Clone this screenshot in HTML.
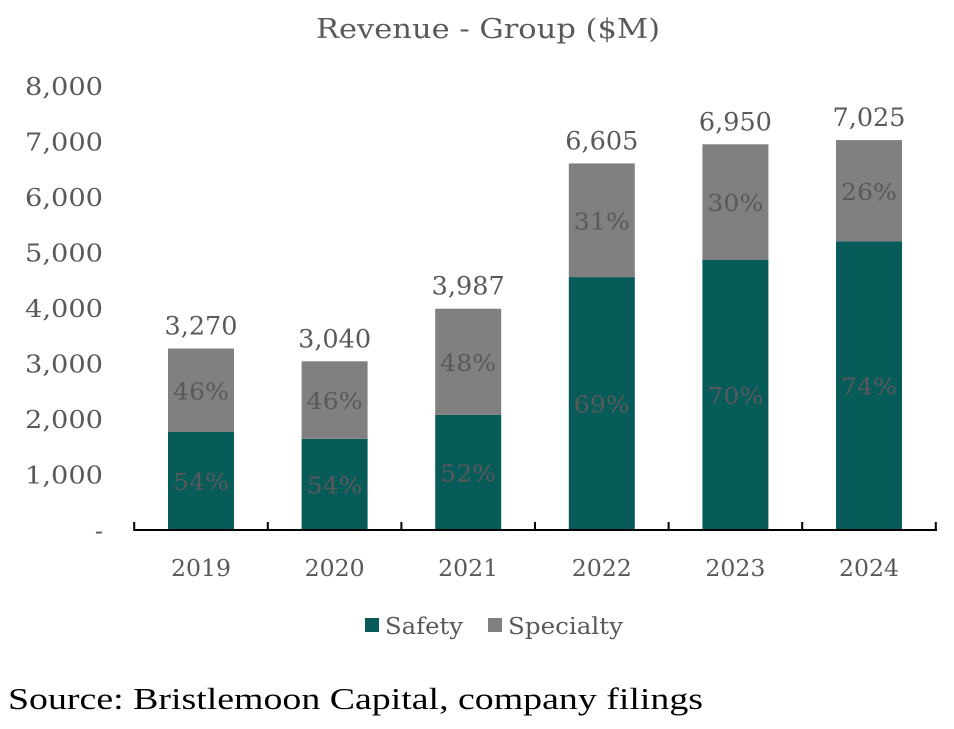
<!DOCTYPE html>
<html><head><meta charset="utf-8"><style>
body{margin:0;background:#fff;width:954px;height:724px;overflow:hidden}
svg text{font-family:"DejaVu Serif","Liberation Serif",serif}
</style></head><body>
<svg id="chart" width="954" height="724" xmlns="http://www.w3.org/2000/svg">
<text x="488" y="38" text-anchor="middle" font-size="27" fill="#595959" textLength="344" lengthAdjust="spacingAndGlyphs">Revenue - Group ($M)</text>
<g id="yaxis"></g><g id="bars"></g>
<line x1="135" y1="530" x2="937" y2="530" stroke="#000" stroke-width="2"/>
<g id="xticks"></g>
<g>
<rect x="365" y="618" width="14" height="14" fill="#075c5a"/>
<text x="385" y="634" font-size="23" fill="#595959" textLength="78" lengthAdjust="spacingAndGlyphs">Safety</text>
<rect x="488" y="618" width="14" height="14" fill="#808080"/>
<text x="508" y="634" font-size="23" fill="#595959" textLength="115" lengthAdjust="spacingAndGlyphs">Specialty</text>
</g>
<text x="8" y="709" font-size="31" fill="#000" style="font-family:'Liberation Serif',serif" textLength="695" lengthAdjust="spacingAndGlyphs">Source: Bristlemoon Capital, company filings</text>
</svg>
<script>
const years=["2019","2020","2021","2022","2023","2024"];
const safety=[1766,1642,2073,4557,4865,5199];
const specialty=[1504,1398,1914,2048,2085,1826];
const totalLabels=["3,270","3,040","3,987","6,605","6,950","7,025"];
const safetyPct=["54%","54%","52%","69%","70%","74%"];
const specialtyPct=["46%","46%","48%","31%","30%","26%"];
const yTicks=[0,1000,2000,3000,4000,5000,6000,7000,8000];
const yTickLabels=["-","1,000","2,000","3,000","4,000","5,000","6,000","7,000","8,000"];
const NS="http://www.w3.org/2000/svg";
const y=v=>530-v*444/8000;
const x=i=>201+i*133.6;
const bw=66;
function mk(t,a,p,txt){const e=document.createElementNS(NS,t);for(const k in a)e.setAttribute(k,a[k]);if(txt!==undefined)e.textContent=txt;p.appendChild(e);return e;}
const ya=document.getElementById('yaxis'),bg=document.getElementById('bars'),xt=document.getElementById('xticks');
yTicks.forEach((v,i)=>{const a={x:103,y:y(v)+9,'text-anchor':'end','font-size':24,fill:'#595959'};
if(v>0){a.textLength=78;a.lengthAdjust='spacingAndGlyphs';}
const t=mk('text',a,ya,yTickLabels[i]);

});
for(let i=0;i<=years.length;i++){const l=mk('line',{x1:x(i)-66.8,x2:x(i)-66.8,y1:522,y2:531,stroke:'#000','stroke-width':2},xt);

}
years.forEach((yr,i)=>{
const cx=x(i),s=safety[i],p=specialty[i],tot=s+p;
const r1=mk('rect',{x:cx-bw/2,y:y(s),width:bw,height:y(0)-y(s),fill:'#075c5a'},bg);


const r2=mk('rect',{x:cx-bw/2,y:y(tot),width:bw,height:y(s)-y(tot),fill:'#808080'},bg);


const t1=mk('text',{x:cx,y:(y(0)+y(s))/2+9,'text-anchor':'middle','font-size':23,fill:'#595959',textLength:56,lengthAdjust:'spacingAndGlyphs'},bg,safetyPct[i]);


const t2=mk('text',{x:cx,y:(y(s)+y(tot))/2+9,'text-anchor':'middle','font-size':23,fill:'#595959',textLength:56,lengthAdjust:'spacingAndGlyphs'},bg,specialtyPct[i]);


const t3=mk('text',{x:cx,y:y(tot)-14,'text-anchor':'middle','font-size':25,fill:'#595959',textLength:73,lengthAdjust:'spacingAndGlyphs'},bg,totalLabels[i]);


const t4=mk('text',{x:cx,y:576,'text-anchor':'middle','font-size':23,fill:'#595959',textLength:60,lengthAdjust:'spacingAndGlyphs'},bg,yr);


});
</script>
</body></html>
